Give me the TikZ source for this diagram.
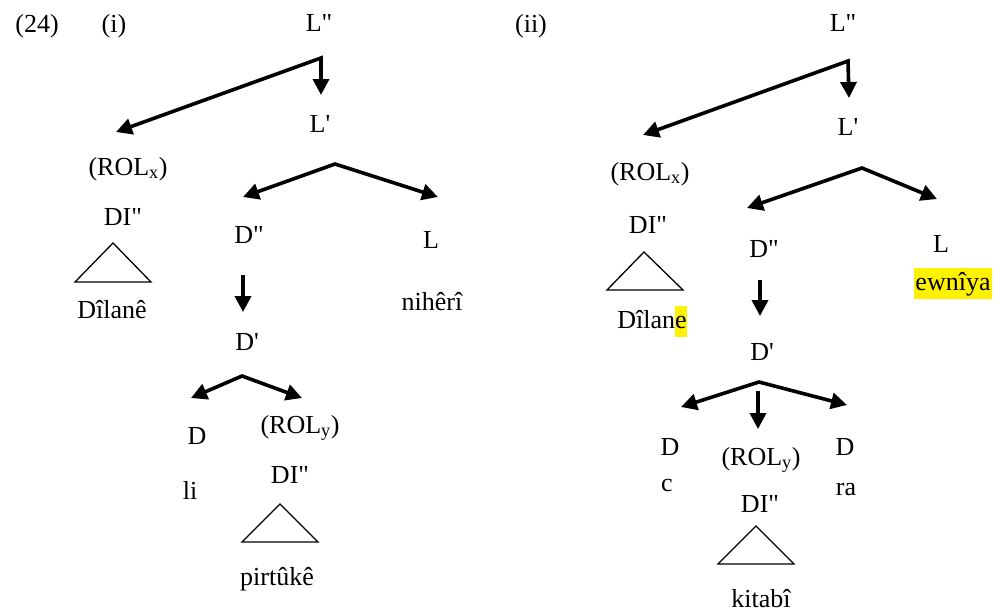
\documentclass[tikz,border=0pt]{standalone}
\usepackage{fontspec}
\setmainfont{Liberation Serif}[Ligatures=TeXOff]
\usetikzlibrary{arrows.meta}
\tikzset{
  lbl/.style={anchor=base, inner sep=0pt, font=\fontsize{26}{31}\selectfont},
  >={Triangle[length=16pt,width=16pt]},
  arr/.style={line width=3.6pt, line join=miter},
  tri/.style={line width=1.3pt, line join=miter},
  hl/.style={fill=yellow, inner sep=0pt}
}
\begin{document}
\begin{tikzpicture}[x=1pt,y=-1pt]
\useasboundingbox (0,0) rectangle (994,611);
% ---------- (i) ----------
\node[lbl] (n24) at (37,32) {(24)};
\node[lbl] (ni) at (114,32) {(i)};
\node[lbl] (Lpp1) at (319,31) {L"};
\coordinate (a1) at (321,58);
\coordinate (rx1) at (116,132);
\coordinate (lp1) at (321,95);
\draw[arr,<->] (rx1) -- (a1) -- (lp1);
\node[lbl] (Lp1) at (320,132) {L'};
\node[lbl] (rolx1) at (128,175) {(ROL\textsubscript{x})};
\node[lbl] (di1) at (123,225) {DI"};
\coordinate (t1a) at (113,243);
\coordinate (t1b) at (75,282);
\coordinate (t1c) at (151,282);
\draw[tri] (t1a) -- (t1b) -- (t1c) -- cycle;
\node[lbl] (dil1) at (112,318) {Dîlanê};
\coordinate (a2) at (335,164);
\coordinate (d2l) at (243,197);
\coordinate (d2r) at (438,197);
\draw[arr,<->] (d2l) -- (a2) -- (d2r);
\node[lbl] (Dpp1) at (249,243) {D"};
\node[lbl] (L1) at (431,248) {L};
\node[lbl] (nih) at (432,310) {nihêrî};
\coordinate (s3) at (243,275);
\coordinate (e3) at (243,312);
\draw[arr,->] (s3) -- (e3);
\node[lbl] (Dp1) at (247,350) {D'};
\coordinate (a3) at (242,376);
\coordinate (d3l) at (191,398);
\coordinate (d3r) at (302,398);
\draw[arr,<->] (d3l) -- (a3) -- (d3r);
\node[lbl] (D1) at (197,444) {D};
\node[lbl] (roly1) at (300,433) {(ROL\textsubscript{y})};
\node[lbl] (li) at (190,499) {li};
\node[lbl] (di2) at (290,483) {DI"};
\coordinate (t2a) at (280,504);
\coordinate (t2b) at (242,542);
\coordinate (t2c) at (318,542);
\draw[tri] (t2a) -- (t2b) -- (t2c) -- cycle;
\node[lbl] (pir) at (277,585) {pirtûkê};
% ---------- (ii) ----------
\node[lbl] (nii) at (531,32) {(ii)};
\node[lbl] (Lpp2) at (843,31) {L"};
\coordinate (b1) at (848,61);
\coordinate (rx2) at (643,135);
\coordinate (lp2) at (849,98);
\draw[arr,<->] (rx2) -- (b1) -- (lp2);
\node[lbl] (Lp2) at (848,135) {L'};
\node[lbl] (rolx2) at (650,180) {(ROL\textsubscript{x})};
\node[lbl] (di3) at (648,233) {DI"};
\coordinate (t3a) at (644,252);
\coordinate (t3b) at (607,290);
\coordinate (t3c) at (683,290);
\draw[tri] (t3a) -- (t3b) -- (t3c) -- cycle;
\node[lbl] (dil2) at (652,328) {Dîlan{\fboxsep=0pt\colorbox{yellow}{\strut e}}};
\coordinate (b2) at (862,168);
\coordinate (e2l) at (747,208);
\coordinate (e2r) at (937,199);
\draw[arr,<->] (e2l) -- (b2) -- (e2r);
\node[lbl] (Dpp2) at (764,257) {D"};
\node[lbl] (L2) at (941,252) {L};
\node[lbl,hl,minimum width=78pt] (ewn) at (953,290) {\strut ewnîya};
\coordinate (s4) at (760,280);
\coordinate (e4) at (760,316);
\draw[arr,->] (s4) -- (e4);
\node[lbl] (Dp2) at (762,360) {D'};
\coordinate (b3) at (759,382);
\coordinate (e3l) at (681,407);
\coordinate (e3r) at (847,405);
\draw[arr,<->] (e3l) -- (b3) -- (e3r);
\coordinate (s5) at (758,391);
\coordinate (e5) at (758,429);
\draw[arr,->] (s5) -- (e5);
\node[lbl] (D2) at (670,455) {D};
\node[lbl] (c) at (667,491) {c};
\node[lbl] (roly2) at (761,465) {(ROL\textsubscript{y})};
\node[lbl] (D3) at (845,455) {D};
\node[lbl] (ra) at (846,495) {ra};
\node[lbl] (di4) at (760,512) {DI"};
\coordinate (t4a) at (756,526);
\coordinate (t4b) at (718,564);
\coordinate (t4c) at (794,564);
\draw[tri] (t4a) -- (t4b) -- (t4c) -- cycle;
\node[lbl] (kit) at (761,607) {kitabî};
\end{tikzpicture}
\end{document}
